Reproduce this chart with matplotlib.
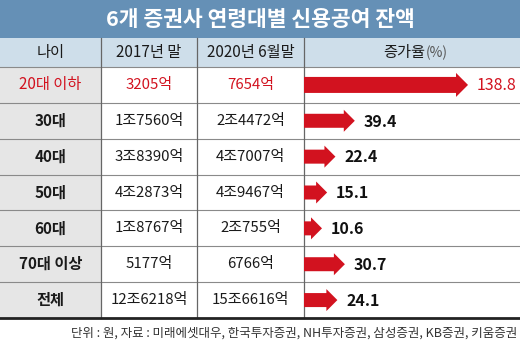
import matplotlib
matplotlib.use("Agg")
import matplotlib.pyplot as plt
from matplotlib.patches import Rectangle, Polygon

plt.rcParams['font.family'] = ['Noto Sans CJK KR', 'DejaVu Sans']

title = '6개 증권사 연령대별 신용공여 잔액'
headers = ['나이', '2017년 말', '2020년 6월말', '증가율']
ages = ['20대 이하', '30대', '40대', '50대', '60대', '70대 이상', '전체']
end_2017 = ['3205억', '1조7560억', '3조8390억', '4조2873억', '1조8767억', '5177억', '12조6218억']
jun_2020 = ['7654억', '2조4472억', '4조7007억', '4조9467억', '2조755억', '6766억', '15조6616억']
growth = [138.8, 39.4, 22.4, 15.1, 10.6, 30.7, 24.1]
source = '단위 : 원, 자료 : 미래에셋대우, 한국투자증권, NH투자증권, 삼성증권, KB증권, 키움증권'

W, H = 520, 343
BLUE = '#6590b6'
HEAD_BG = '#cedeea'
GRAY_BG = '#e6e6e6'
RED = '#d2121f'
TXT = '#1a1a1a'

fig = plt.figure(figsize=(W / 100, H / 100), dpi=100)
ax = fig.add_axes([0, 0, 1, 1])
ax.set_xlim(0, W)
ax.set_ylim(H, 0)
ax.axis('off')

# layout (pixels)
title_bot = 38
head_bot = 67
table_bot = 318
row_h = (table_bot - head_bot) / len(ages)
col_x = [0, 101, 197, 304, W]

# title band
ax.add_patch(Rectangle((0, 0), W, title_bot, color=BLUE, lw=0))
ax.text(W / 2, title_bot / 2 + 0.5, title, color='white', fontsize=15.5,
        fontweight='bold', ha='center', va='center')

# header row
ax.add_patch(Rectangle((0, title_bot), W, head_bot - title_bot, color=HEAD_BG, lw=0))
head_y = (title_bot + head_bot) / 2
for i, h in enumerate(headers[:3]):
    ax.text((col_x[i] + col_x[i + 1]) / 2, head_y, h, fontsize=11,
            ha='center', va='center', color=TXT, fontweight='medium')
t = ax.text(404, head_y, headers[3], fontsize=11, ha='center', va='center',
            color=TXT, fontweight='medium')
ax.annotate('(%)', xy=(1, 0.5), xycoords=t, xytext=(0.5, 0), textcoords='offset points',
            fontsize=10, ha='left', va='center', color='#555555', fontweight='light')

# first column background
ax.add_patch(Rectangle((0, head_bot), col_x[1], table_bot - head_bot, color=GRAY_BG, lw=0))

# grid lines
ax.plot([0, W], [head_bot, head_bot], color='#8a8a8a', lw=0.8)
for r in range(1, len(ages)):
    y = head_bot + r * row_h
    ax.plot([0, W], [y, y], color='#8a8a8a', lw=0.8)
for x in col_x[1:4]:
    ax.plot([x, x], [title_bot, table_bot], color='#666666', lw=0.9)
ax.plot([0, W], [table_bot, table_bot], color='#222222', lw=2.0)

# table cells
for r, (a, v1, v2) in enumerate(zip(ages, end_2017, jun_2020)):
    yc = head_bot + (r + 0.5) * row_h
    first = r == 0
    c = RED if first else TXT
    ax.text((col_x[0] + col_x[1]) / 2, yc, a, fontsize=11, ha='center', va='center',
            color=c, fontweight='medium' if first else 'bold')
    ax.text((col_x[1] + col_x[2]) / 2, yc, v1, fontsize=10.8, ha='center', va='center',
            color=c)
    ax.text((col_x[2] + col_x[3]) / 2, yc, v2, fontsize=10.8, ha='center', va='center',
            color=c)

# arrow bars
PX = 1.139  # pixels per percentage point
bax = fig.add_axes([col_x[3] / W, (H - table_bot) / H, (W - col_x[3]) / W,
                    (table_bot - head_bot) / H])
bax.set_xlim(0, (W - col_x[3]) / PX)
bax.set_ylim(len(ages), 0)
bax.axis('off')
bax.patch.set_alpha(0)

OFFSET = 5.2
for r, g in enumerate(growth):
    yc = r + 0.5
    first = r == 0
    shaft = (8 if first else 7) / row_h
    head = (12 if first else 11) / row_h
    hl = (12 if first else 11) / PX
    tip = g + OFFSET
    neck = tip - hl
    poly = [(0, yc - shaft), (neck, yc - shaft), (neck, yc - head), (tip, yc),
            (neck, yc + head), (neck, yc + shaft), (0, yc + shaft)]
    bax.add_patch(Polygon(poly, closed=True, color=RED, lw=0))
    bax.text(tip + 9 / PX, yc + 0.02, f'{g:.1f}', fontsize=11.5, ha='left', va='center',
             color=RED if first else '#111111',
             fontweight='normal' if first else 'bold', clip_on=False)

# source note
ax.text(W - 3, 333, source, fontsize=9, ha='right', va='center', color='#333333')

fig.savefig('out.png', dpi=100)
